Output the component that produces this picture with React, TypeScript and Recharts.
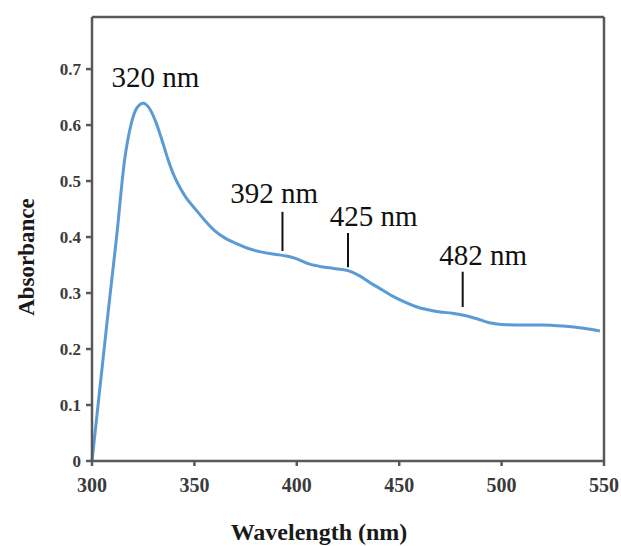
import React from "react";
import {
  LineChart,
  Line,
  XAxis,
  YAxis,
  ReferenceLine,
  ReferenceDot,
} from "recharts";

// Wavelength (nm) and absorbance
const wavelengths = [
  300, 304, 308, 312, 316, 319, 322, 325, 328, 331, 334, 337, 340, 343, 346,
  350, 355, 360, 365, 370, 376, 383, 390, 395, 400, 406, 412, 418, 425, 430,
  436, 442, 447, 452, 458, 464, 470, 476, 482, 488, 494, 500, 510, 520, 530,
  540, 548,
];
const absorbance = [
  0.0, 0.135, 0.27, 0.4, 0.54, 0.6, 0.631, 0.639, 0.63, 0.607, 0.575,
  0.54, 0.51, 0.488, 0.47, 0.452, 0.43, 0.411, 0.398, 0.389, 0.38, 0.373,
  0.369, 0.366, 0.361, 0.352, 0.347, 0.344, 0.34, 0.332, 0.318, 0.305, 0.294,
  0.285, 0.276, 0.27, 0.266, 0.264, 0.26, 0.254, 0.247, 0.244, 0.243, 0.243,
  0.241, 0.237, 0.232,
];

const xTicks = [300, 350, 400, 450, 500, 550];
const yTicks = [0, 0.1, 0.2, 0.3, 0.4, 0.5, 0.6, 0.7];
const xMax = 550;
const yMax = 0.793;

// Peak labels: text anchor (wavelength, absorbance) and marker line span
const peakLabels = ["320 nm", "392 nm", "425 nm", "482 nm"];
const labelX = [331, 389, 437.5, 491];
const labelY = [0.668, 0.461, 0.42, 0.35];
const markerX = [null, 393, 425, 481];
const markerLow = [null, 0.375, 0.346, 0.275];
const markerHigh = [null, 0.445, 0.407, 0.338];

const data = wavelengths.map((wl, i) => ({ wl, abs: absorbance[i] }));

const axisColor = "#595959";
const serif = "Liberation Serif, DejaVu Serif, serif";

export default function App() {
  return (
    <div
      style={{
        position: "absolute",
        left: 0,
        top: 0,
        background: "#fff",
        fontFamily: serif,
      }}
    >
      <LineChart
        width={621}
        height={546}
        data={data}
        margin={{ top: 17, right: 17, bottom: 35, left: 32 }}
      >
        <XAxis
          dataKey="wl"
          type="number"
          domain={[300, xMax]}
          ticks={xTicks}
          height={50}
          tickSize={5}
          tickMargin={12}
          stroke={axisColor}
          strokeWidth={2.5}
          tick={{
            fill: "#3a3a3a",
            fontSize: 20,
            fontWeight: "bold",
            fontFamily: serif,
          }}
          label={{
            content: (props: any) => {
              const vb = props.viewBox;
              return (
                <text
                  x={vb.x + vb.width / 2 - 29}
                  y={vb.y + 79}
                  textAnchor="middle"
                  fill="#1a1a1a"
                  fontSize={24}
                  fontWeight="bold"
                  fontFamily={serif}
                >
                  Wavelength (nm)
                </text>
              );
            },
          }}
        />
        <YAxis
          type="number"
          domain={[0, yMax]}
          ticks={yTicks}
          width={60}
          tickSize={6}
          tickMargin={5}
          stroke={axisColor}
          strokeWidth={2.5}
          tick={{
            fill: "#3a3a3a",
            fontSize: 17,
            fontWeight: "bold",
            fontFamily: serif,
          }}
          label={{
            content: (props: any) => {
              const vb = props.viewBox;
              const cx = vb.x - 6;
              const cy = 257;
              return (
                <text
                  x={cx}
                  y={cy}
                  transform={`rotate(-90 ${cx} ${cy})`}
                  textAnchor="middle"
                  dominantBaseline="central"
                  fill="#1a1a1a"
                  fontSize={23}
                  fontWeight="bold"
                  fontFamily={serif}
                >
                  Absorbance
                </text>
              );
            },
          }}
        />
        {/* top and right edges of the frame */}
        <ReferenceLine y={yMax} stroke={axisColor} strokeWidth={2.5} />
        <ReferenceLine x={xMax} stroke={axisColor} strokeWidth={2.5} />
        <Line
          type="monotone"
          dataKey="abs"
          stroke="#5B9BD5"
          strokeWidth={3}
          dot={false}
          activeDot={false}
          isAnimationActive={false}
        />
        {peakLabels.map((txt, i) =>
          markerX[i] !== null ? (
            <ReferenceLine
              key={"m" + i}
              segment={[
                { x: markerX[i] as number, y: markerLow[i] as number },
                { x: markerX[i] as number, y: markerHigh[i] as number },
              ]}
              stroke="#111"
              strokeWidth={2}
            />
          ) : null
        )}
        {peakLabels.map((txt, i) => (
          <ReferenceDot
            key={"t" + i}
            x={labelX[i]}
            y={labelY[i]}
            r={0}
            shape={(p: any) => (
              <text
                x={p.cx}
                y={p.cy}
                textAnchor="middle"
                fill="#111"
                fontSize={29}
                fontFamily={serif}
              >
                {txt}
              </text>
            )}
          />
        ))}
      </LineChart>
    </div>
  );
}
